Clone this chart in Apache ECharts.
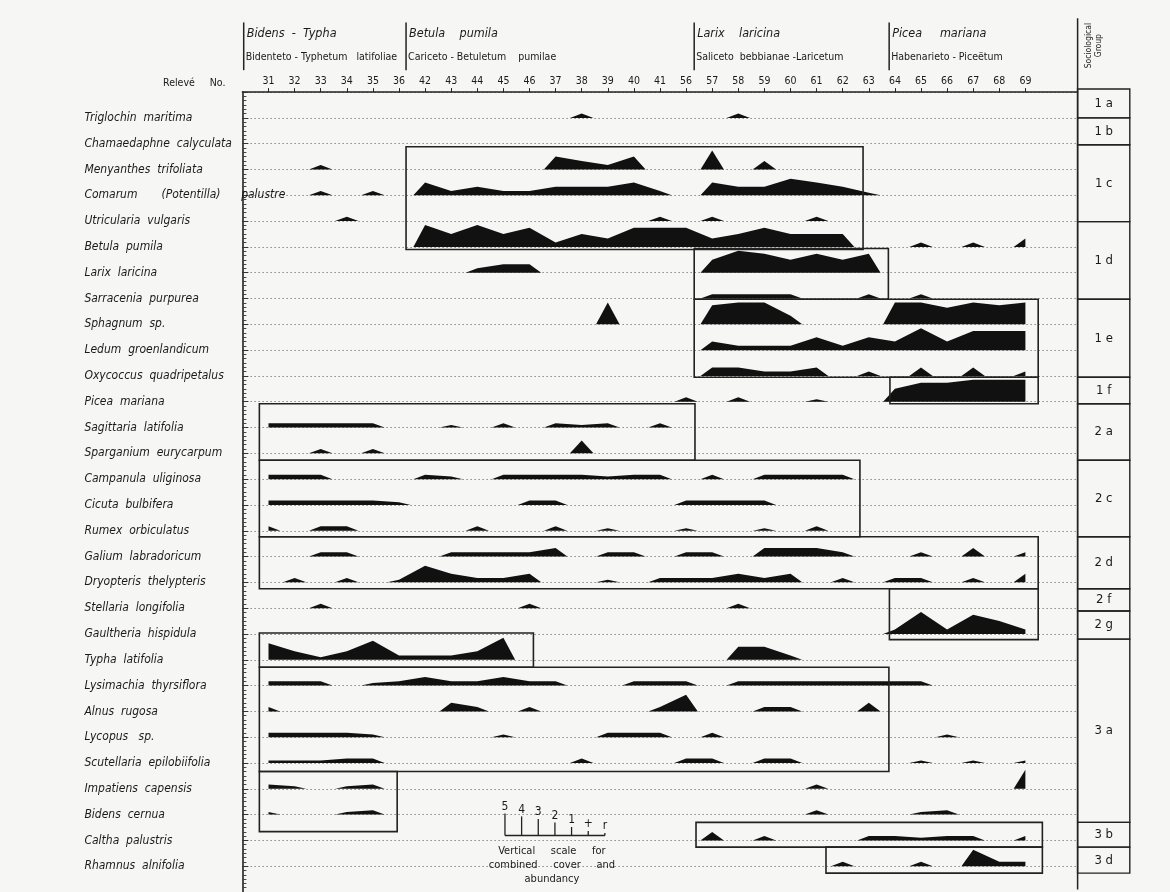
<!DOCTYPE html>
<html><head><meta charset="utf-8">
<script src="https://cdn.jsdelivr.net/npm/echarts@6/dist/echarts.min.js"></script>
<style>html,body{margin:0;padding:0;background:#f6f6f4}#c{width:1170px;height:892px}</style>
</head><body><div id="c"></div><script>
// ---------------- DATA ----------------
const releves = [31,32,33,34,35,36,42,43,44,45,46,37,38,39,40,41,56,57,58,59,60,61,62,63,64,65,66,67,68,69];
const species = ['Triglochin  maritima','Chamaedaphne  calyculata','Menyanthes  trifoliata','Comarum       (Potentilla)      palustre','Utricularia  vulgaris','Betula  pumila','Larix  laricina','Sarracenia  purpurea','Sphagnum  sp.','Ledum  groenlandicum','Oxycoccus  quadripetalus','Picea  mariana','Sagittaria  latifolia','Sparganium  eurycarpum','Campanula  uliginosa','Cicuta  bulbifera','Rumex  orbiculatus','Galium  labradoricum','Dryopteris  thelypteris','Stellaria  longifolia','Gaultheria  hispidula','Typha  latifolia','Lysimachia  thyrsiflora','Alnus  rugosa','Lycopus   sp.','Scutellaria  epilobiifolia','Impatiens  capensis','Bidens  cernua','Caltha  palustris','Rhamnus  alnifolia'];
const coverCodes = ['5','4','3','2','1','+','r'];
// [relevé, cover-abundance code]
const triglochinMaritima = [[38,'+'],[58,'+']];
const chamaedaphneCalyculata = [];
const menyanthesTrifoliata = [[33,'+'],[37,'2'],[38,'1'],[39,'+'],[40,'2'],[57,'4'],[59,'1']];
const comarumPalustre = [[33,'+'],[35,'+'],[42,'2'],[43,'+'],[44,'1'],[45,'+'],[46,'+'],[37,'1'],[38,'1'],[39,'1'],[40,'2'],[41,'+'],[57,'2'],[58,'1'],[59,'1'],[60,'3'],[61,'2'],[62,'1'],[63,'r']];
const utriculariaVulgaris = [[34,'+'],[41,'+'],[57,'+'],[61,'+']];
const betulaPumila = [[42,'5'],[43,'2'],[44,'5'],[45,'2'],[46,'4'],[37,'+'],[38,'2'],[39,'1'],[40,'4'],[41,'4'],[56,'4'],[57,'1'],[58,'2'],[59,'4'],[60,'2'],[61,'2'],[62,'2'],[65,'+'],[67,'+'],[69,'1']];
const larixLaricina = [[44,'+'],[45,'1'],[46,'1'],[57,'2'],[58,'5'],[59,'4'],[60,'2'],[61,'4'],[62,'2'],[63,'4']];
const sarraceniaPurpurea = [[57,'+'],[58,'+'],[59,'+'],[60,'+'],[63,'+'],[65,'+']];
const sphagnumSp = [[39,'5'],[57,'4'],[58,'5'],[59,'5'],[60,'1'],[64,'5'],[65,'5'],[66,'3'],[67,'5'],[68,'4'],[69,'5']];
const ledumGroenlandicum = [[57,'1'],[58,'+'],[59,'+'],[60,'+'],[61,'2'],[62,'+'],[63,'2'],[64,'1'],[65,'5'],[66,'1'],[67,'4'],[68,'4'],[69,'4']];
const oxycoccusQuadripetalus = [[57,'1'],[58,'1'],[59,'+'],[60,'+'],[61,'1'],[63,'+'],[65,'1'],[67,'1'],[69,'+']];
const piceaMariana = [[56,'+'],[58,'+'],[61,'r'],[64,'2'],[65,'4'],[66,'4'],[67,'5'],[68,'5'],[69,'5']];
const sagittariaLatifolia = [[31,'+'],[32,'+'],[33,'+'],[34,'+'],[35,'+'],[43,'r'],[45,'+'],[37,'+'],[38,'r'],[39,'+'],[41,'+']];
const sparganiumEurycarpum = [[33,'+'],[35,'+'],[38,'2']];
const campanulaUliginosa = [[31,'+'],[32,'+'],[33,'+'],[42,'+'],[43,'r'],[45,'+'],[46,'+'],[37,'+'],[38,'+'],[39,'r'],[40,'+'],[41,'+'],[57,'+'],[59,'+'],[60,'+'],[61,'+'],[62,'+']];
const cicutaBulbifera = [[31,'+'],[32,'+'],[33,'+'],[34,'+'],[35,'+'],[36,'r'],[46,'+'],[37,'+'],[56,'+'],[57,'+'],[58,'+'],[59,'+']];
const rumexOrbiculatus = [[31,'+'],[33,'+'],[34,'+'],[44,'+'],[37,'+'],[39,'r'],[56,'r'],[59,'r'],[61,'+']];
const galiumLabradoricum = [[33,'+'],[34,'+'],[43,'+'],[44,'+'],[45,'+'],[46,'+'],[37,'1'],[39,'+'],[40,'+'],[56,'+'],[57,'+'],[59,'1'],[60,'1'],[61,'1'],[62,'+'],[65,'+'],[67,'1'],[69,'+']];
const dryopterisThelypteris = [[32,'+'],[34,'+'],[36,'r'],[42,'3'],[43,'1'],[44,'+'],[45,'+'],[46,'1'],[39,'r'],[41,'+'],[56,'+'],[57,'+'],[58,'1'],[59,'+'],[60,'1'],[62,'+'],[64,'+'],[65,'+'],[67,'+'],[69,'1']];
const stellariaLongifolia = [[33,'+'],[46,'+'],[58,'+']];
const gaultheriaHispidula = [[64,'+'],[65,'5'],[66,'+'],[67,'4'],[68,'2'],[69,'+']];
const typhaLatifolia = [[31,'3'],[32,'1'],[33,'r'],[34,'1'],[35,'4'],[36,'+'],[42,'+'],[43,'+'],[44,'1'],[45,'5'],[58,'2'],[59,'2'],[60,'+']];
const lysimachiaThyrsiflora = [[31,'+'],[32,'+'],[33,'+'],[35,'r'],[36,'+'],[42,'1'],[43,'+'],[44,'+'],[45,'1'],[46,'+'],[37,'+'],[40,'+'],[41,'+'],[56,'+'],[58,'+'],[59,'+'],[60,'+'],[61,'+'],[62,'+'],[63,'+'],[64,'+'],[65,'+']];
const alnusRugosa = [[31,'+'],[43,'1'],[44,'+'],[46,'+'],[41,'+'],[56,'3'],[59,'+'],[60,'+'],[63,'1']];
const lycopusSp = [[31,'+'],[32,'+'],[33,'+'],[34,'+'],[35,'r'],[45,'r'],[39,'+'],[40,'+'],[41,'+'],[57,'+'],[66,'r']];
const scutellariaEpilobiifolia = [[31,'r'],[32,'r'],[33,'r'],[34,'+'],[35,'+'],[38,'+'],[56,'+'],[57,'+'],[59,'+'],[60,'+'],[65,'r'],[67,'r'],[69,'r']];
const impatiensCapensis = [[31,'+'],[32,'r'],[34,'r'],[35,'+'],[61,'+'],[69,'4']];
const bidensCernua = [[31,'r'],[34,'r'],[35,'+'],[61,'+'],[65,'r'],[66,'+']];
const calthaPalustris = [[57,'1'],[59,'+'],[63,'+'],[64,'+'],[65,'r'],[66,'+'],[67,'+'],[69,'+']];
const rhamnusAlnifolia = [[62,'+'],[65,'+'],[67,'3'],[68,'+'],[69,'+']];
const speciesCover = [triglochinMaritima, chamaedaphneCalyculata, menyanthesTrifoliata, comarumPalustre, utriculariaVulgaris, betulaPumila, larixLaricina, sarraceniaPurpurea, sphagnumSp, ledumGroenlandicum, oxycoccusQuadripetalus, piceaMariana, sagittariaLatifolia, sparganiumEurycarpum, campanulaUliginosa, cicutaBulbifera, rumexOrbiculatus, galiumLabradoricum, dryopterisThelypteris, stellariaLongifolia, gaultheriaHispidula, typhaLatifolia, lysimachiaThyrsiflora, alnusRugosa, lycopusSp, scutellariaEpilobiifolia, impatiensCapensis, bidensCernua, calthaPalustris, rhamnusAlnifolia];
const groupNames = ['1 a','1 b','1 c','1 d','1 e','1 f','2 a','2 c','2 d','2 f','2 g','3 a','3 b','3 d'];
const headerNames = ['Bidens  -  Typha','Betula    pumila','Larix    laricina','Picea     mariana'];
const headerAssoc = ['Bidenteto - Typhetum   latifoliae','Cariceto - Betuletum    pumilae','Saliceto  bebbianae -Laricetum','Habenarieto - Piceëtum'];
const legendLines = ['Vertical     scale     for','combined     cover     and','abundancy'];

// ---------------- LAYOUT (axis units: x = column index, y = row index) ----------------
const coverHeight = {'5':0.85,'4':0.74,'3':0.64,'2':0.5,'1':0.33,'+':0.17,'r':0.1};
const TAPER = 0.45;
const groupEdges = [-1.12,0,1.04,4.02,7.03,10.05,11.08,13.27,16.23,18.25,19.11,20.2,27.3,28.26,29.27];
const boxes = [
  [5.27,22.78,1.12,5.10],[16.31,23.75,5.06,7.03],[16.31,29.49,7.03,10.05],[23.81,29.49,10.05,11.08],
  [-0.35,16.34,11.08,13.27],[-0.35,22.66,13.27,16.23],[-0.35,29.49,16.23,18.25],[23.79,29.49,18.25,20.22],
  [-0.35,10.15,19.96,21.29],[-0.35,23.77,21.29,25.33],[-0.35,4.93,25.33,27.66],[16.38,29.65,27.3,28.26],[21.36,29.65,28.26,29.27]
];
const headerX = [-0.95,5.27,16.31,23.78];
const FONT = "'DejaVu Sans Condensed','DejaVu Sans',sans-serif";
const INK = '#1a1a1a';

const colIdx = releves.map((_, i) => i);
const rowIdx = species.map((_, i) => i);

function renderProfile(params, api) {
  const r = api.value(1);
  const vals = new Array(releves.length).fill(null);
  speciesCover[r].forEach(([rel, code]) => { vals[releves.indexOf(rel)] = code; });
  const last = releves.length - 1;
  const children = [];
  let i = 0;
  while (i <= last) {
    if (!vals[i]) { i++; continue; }
    let j = i;
    while (j + 1 <= last && vals[j + 1]) j++;
    const pts = [api.coord([i === 0 ? 0 : i - TAPER, r])];
    for (let k = i; k <= j; k++) pts.push(api.coord([k, r - coverHeight[vals[k]]]));
    pts.push(api.coord([j === last ? last : j + TAPER, r]));
    children.push({type: 'polygon', shape: {points: pts}, style: {fill: '#111'}});
    i = j + 1;
  }
  return {type: 'group', children};
}

function renderBox(params, api) {
  const p0 = api.coord([api.value(0), api.value(2)]);
  const p1 = api.coord([api.value(1), api.value(3)]);
  return {type: 'rect', shape: {x: p0[0], y: p0[1], width: p1[0] - p0[0], height: p1[1] - p0[1]},
    style: {fill: null, stroke: '#222', lineWidth: 1.6}};
}

function renderGroup(params, api) {
  const g = api.value(0);
  const p0 = api.coord([31, groupEdges[g]]);
  const p1 = api.coord([33, groupEdges[g + 1]]);
  return {type: 'group', children: [
    {type: 'rect', shape: {x: p0[0], y: p0[1], width: p1[0] - p0[0], height: p1[1] - p0[1]}, style: {fill: null, stroke: '#222', lineWidth: 1.4}},
    {type: 'text', x: (p0[0] + p1[0]) / 2, y: (p0[1] + p1[1]) / 2, style: {text: groupNames[g], fill: INK, fontSize: 13, fontFamily: FONT, align: 'center', verticalAlign: 'middle'}}
  ]};
}

function renderHeader(params, api) {
  const children = [];
  headerX.forEach((hx, h) => {
    const a = api.coord([hx, -3.7]), b = api.coord([hx, -1.85]);
    children.push({type: 'line', shape: {x1: a[0], y1: a[1], x2: b[0], y2: b[1]}, style: {stroke: '#222', lineWidth: 1.5}});
    const t1 = api.coord([hx, -3.28]), t2 = api.coord([hx, -2.36]);
    children.push({type: 'text', x: t1[0] + 3, y: t1[1], style: {text: headerNames[h], fill: INK, fontSize: 12.5, fontStyle: 'italic', fontFamily: FONT, align: 'left', verticalAlign: 'middle'}});
    children.push({type: 'text', x: t2[0] + 2, y: t2[1], style: {text: headerAssoc[h], fill: INK, fontSize: 10.5, fontFamily: FONT, align: 'left', verticalAlign: 'middle'}});
  });
  const v0 = api.coord([31, -3.86]), v1 = api.coord([31, 29.9]);
  children.push({type: 'line', shape: {x1: v0[0], y1: v0[1], x2: v1[0], y2: v1[1]}, style: {stroke: '#222', lineWidth: 1.5}});
  const rel = api.coord([-4.04, -1.35]);
  children.push({type: 'text', x: rel[0], y: rel[1], style: {text: 'Relevé     No.', fill: INK, fontSize: 10.5, fontFamily: FONT, align: 'left', verticalAlign: 'middle'}});
  const sg = api.coord([31.62, -2.8]);
  children.push({type: 'text', x: sg[0], y: sg[1], rotation: Math.PI / 2, style: {text: 'Sociological\nGroup', fill: INK, fontSize: 8.5, lineHeight: 10, fontFamily: FONT, align: 'center', verticalAlign: 'middle'}});
  return {type: 'group', children};
}

function renderLegend(params, api) {
  const children = [];
  const base = 27.81, x0 = 9.06, step = 0.638;
  const a = api.coord([x0, base]), b = api.coord([x0 + step * (coverCodes.length - 1), base]);
  children.push({type: 'line', shape: {x1: a[0], y1: a[1], x2: b[0], y2: b[1]}, style: {stroke: '#222', lineWidth: 1.3}});
  coverCodes.forEach((code, k) => {
    const p = api.coord([x0 + step * k, base]), q = api.coord([x0 + step * k, base - coverHeight[code]]);
    children.push({type: 'line', shape: {x1: p[0], y1: p[1], x2: q[0], y2: q[1]}, style: {stroke: '#222', lineWidth: 1.3}});
    children.push({type: 'text', x: q[0], y: q[1] - 1, style: {text: code, fill: INK, fontSize: 12, fontFamily: FONT, align: 'center', verticalAlign: 'bottom'}});
  });
  legendLines.forEach((line, k) => {
    const p = api.coord([10.86, 28.4 + k * 0.55]);
    children.push({type: 'text', x: p[0], y: p[1], style: {text: line, fill: INK, fontSize: 11, fontFamily: FONT, align: 'center', verticalAlign: 'middle'}});
  });
  return {type: 'group', children};
}

const chart = echarts.init(document.getElementById('c'));
chart.setOption({
  backgroundColor: '#f6f6f4',
  animation: false,
  grid: {left: 242.4, top: 92.1, width: 835.2, height: 802.9},
  xAxis: {
    type: 'value', position: 'top', min: -1, max: 31, interval: 1,
    axisLine: {show: true, onZero: false, lineStyle: {color: '#222', width: 1.6}},
    axisTick: {show: true, length: 4, customValues: colIdx, lineStyle: {color: '#222'}},
    axisLabel: {customValues: colIdx, formatter: v => (releves[v] !== undefined ? String(releves[v]) : ''), fontSize: 10.5, fontFamily: FONT, color: INK, margin: 5},
    splitLine: {show: false}
  },
  yAxis: {
    type: 'value', inverse: true, min: -1, max: 30, interval: 1,
    axisLine: {show: true, onZero: false, lineStyle: {color: '#222', width: 1.6}},
    axisTick: {show: true, inside: true, length: 6, lineStyle: {color: '#333'}},
    minorTick: {show: true, splitNumber: 6, length: 4, lineStyle: {color: '#444'}},
    axisLabel: {customValues: rowIdx, formatter: v => species[v] || '', align: 'left', margin: 158, fontSize: 12, fontStyle: 'italic', fontFamily: FONT, color: INK, padding: [0, 0, 8, 0]},
    splitLine: {show: true, lineStyle: {color: '#8a8a8a', width: 1, type: [1.5, 2.5]}}
  },
  series: [
    {type: 'custom', name: 'profiles', data: rowIdx.map(r => [0, r]), encode: {x: 0, y: 1}, renderItem: renderProfile, z: 3},
    {type: 'custom', name: 'boxes', data: boxes, encode: {x: [0, 1], y: [2, 3]}, renderItem: renderBox, clip: false, z: 4},
    {type: 'custom', name: 'groups', data: groupNames.map((_, g) => [g]), encode: {x: -1, y: -1}, renderItem: renderGroup, clip: false, z: 4},
    {type: 'custom', name: 'header', data: [[0]], renderItem: renderHeader, clip: false, z: 4},
    {type: 'custom', name: 'legend', data: [[0]], renderItem: renderLegend, clip: false, z: 4}
  ]
});
</script></body></html>
